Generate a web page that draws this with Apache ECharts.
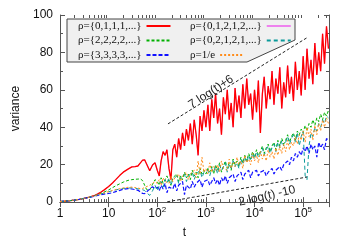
<!DOCTYPE html>
<html><head><meta charset="utf-8">
<script src="https://cdn.jsdelivr.net/npm/echarts@6/dist/echarts.min.js"></script>
<style>html,body{margin:0;padding:0;background:#fff}#c{width:349px;height:244px}</style>
</head><body><div id="c"></div>
<script>
// time points (t)
const tEarly = [1,1.5,2,2.5,3,4,5,6,7,8,10,12,14,17,20,25,30,35,40,45,50,55,60,70,80,90];
const tNoisy = [
 100,110,120,132,145,158,174,191,209,229,251,275,302,331,363,398,437,479,525,575,631,692,759,832,912,
 1000,1100,1200,1320,1450,1580,1740,1910,2090,2290,2510,2750,3020,3310,3630,3980,4370,4790,5250,5750,6310,6920,7590,8320,9120,
 10000,11000,12000,13200,14500,15800,17400,19100,20900,22900,25100,27500,30200,33100,36300,39800,43700,47900,52500,57500,63100,69200,75900,83200,91200,
 100000,110000,120000,132000,145000,158000,174000,191000,209000,229000,251000,275000,302000,331000];

// variance values
const redEarly = [0.3,0.7,1.1,1.5,1.9,2.6,3.4,4.4,5.4,6.4,8.3,10.2,12,14.3,16,17.6,18.8,19,19.3,21,22.4,22.6,20.5,16.8,19.8,21];
const redNoisy = [
 17,14,22,27,25,28,18,12,28,31,24,34,28,37,30,39,33,42,31,44,36,25,46,38,49,
 40,52,38,55,45,58,42,50,36,56,47,60,44,53,40,61,48,57,45,63,50,66,52,58,44,
 60,48,65,37,58,67,50,62,55,70,52,66,58,72,50,64,56,73,58,67,54,75,60,70,57,
 78,60,82,66,76,63,85,68,80,70,90,74,94,82];
const greenEarly = [0.3,0.7,1.1,1.5,1.9,2.6,3.3,4,4.7,5.3,6.5,7.7,8.7,9.8,10.7,11.6,12,12.2,12.3,12.4,11.5,9,6.8,6.5,9.5,12];
const greenNoisy = [
 11,9,13,10,12,14,11,9,13,12,15,11,14,12,16,13,15,12,17,14,16,13,18,15,17,
 15,18,16,19,15,20,17,21,16,19,22,18,21,17,23,20,22,19,24,21,25,22,26,23,27,
 24,28,25,27,30,26,29,31,27,30,32,28,33,30,34,31,33,36,32,35,37,33,38,36,39,
 37,41,38,42,40,44,41,45,43,47,44,48,46,49];
const blueEarly = [0.3,0.7,1.1,1.5,1.9,2.5,3.1,3.6,4,4.3,4.6,5,5.6,6.3,6.9,7.2,7,6.7,6.3,5.5,4.6,4.5,5.5,7,8.2,7.2];
const blueNoisy = [
 8,6,9,7,10,5,8,9,7,10,6,9,8,11,4,9,10,7,11,8,10,9,12,8,11,
 10,12,9,11,13,10,12,9,13,11,14,10,13,12,15,11,14,13,16,12,15,14,17,13,16,
 15,17,14,16,15,17,14,16,15,18,15,17,16,19,17,20,19,22,20,24,22,26,24,27,25,
 29,27,30,26,31,28,30,24,32,29,31,28,34,33];
// magenta is not visible in the reference: it lies under the solid red curve
const magentaEarly = [0.3,0.7,1.1,1.5,1.9,2.6,3.4,4.4,5.4,6.4,8.3,10.2,12,14.3,16,17.6,18.8,19,19.3,21,22.4,22.6,20.5,16.8,19.8,21];
const magentaNoisy = [
 17,14,22,27,25,28,18,12,28,31,24,34,28,37,30,39,33,42,31,44,36,25,46,38,49,
 40,52,38,55,45,58,42,50,36,56,47,60,44,53,40,61,48,57,45,63,50,66,52,58,44,
 60,48,65,37,58,67,50,62,55,70,52,66,58,72,50,64,56,73,58,67,54,75,60,70,57,
 78,60,82,66,76,63,85,68,80,70,90,74,94,82];
const cyanEarly = [0.3,0.7,1.1,1.5,1.9,2.6,3.3,3.9,4.4,4.8,5.5,6.1,6.5,7,7.3,7.5,7.6,7.4,7.1,6.7,6.6,6.2,5,3.6,6,9];
const cyanNoisy = [
 6,9,11,8,12,10,13,9,12,11,14,10,13,12,15,11,14,13,16,12,15,14,17,13,16,
 15,17,14,18,16,19,15,20,17,18,21,16,20,18,22,19,21,18,23,20,24,21,25,22,26,
 23,27,24,26,29,25,28,30,26,29,31,27,32,29,33,30,32,35,31,34,36,32,37,30,35,
 38,14,12,30,37,35,40,38,42,40,44,42,46,45];
const orangeEarly = [0.3,0.7,1.1,1.5,1.9,2.6,3.3,3.9,4.5,4.9,5.6,6.2,6.7,7.2,7.6,7.9,8,7.8,7.5,7.2,7.3,7.8,8.3,9,10,11];
const orangeNoisy = [
 10,12,9,13,11,12,10,14,11,13,12,15,11,14,13,16,12,15,14,17,13,22,15,24,16,
 18,15,21,16,19,17,20,16,22,18,19,17,23,18,21,19,24,20,22,18,25,21,23,20,26,
 22,25,21,27,23,26,22,28,24,27,23,29,25,30,26,31,27,33,28,32,30,35,31,36,33,
 38,32,40,35,39,33,41,36,42,38,44,40,45,42];

// guide lines: 7 log(t)+6 and 2 log(t) -10 (endpoints)
const fitUpperT = [166, 126000];
const fitUpperV = [41.8, 88.2];
const fitLowerT = [160, 120000];
const fitLowerV = [0.15, 13.4];

const seriesNames = ['ρ={0,1,1,1,...}','ρ={2,2,2,2,...}','ρ={3,3,3,3,...}','ρ={0,1,2,1,2,...}','ρ={0,2,1,2,1,...}','ρ=1/e'];

// tick labels
const xTickVals = [1,10,100,1000,10000,100000];
const xTickLabels = ['1','10','10{s|2}','10{s|3}','10{s|4}','10{s|5}'];
const minorMult = [2,3,4,5,6,7,8,9];
const yTicks = [0,20,40,60,80,100];

const X_MIN = 1, X_MAX = 340000;
const tAll = tEarly.concat(tNoisy);
function pts(early, noisy){ const v = early.concat(noisy); return tAll.map((x,i)=>[x, v[i]]); }
function pairs(ts, vs){ return ts.map((x,i)=>[x, vs[i]]); }
const minorVals = [];
xTickVals.forEach(d => minorMult.forEach(m => { if (d*m < X_MAX) minorVals.push(d*m); }));

const AX = '#555';
const sans = 'Liberation Sans';
function mkLine(name, data, color, width, type, z){
  return {name, type:'line', data, symbol:'none', showSymbol:false, animation:false,
    lineStyle:{color, width, type}, itemStyle:{color}, emphasis:{disabled:true}, z:z||2};
}
function mkLegend(names, left, top, w){
  const ts = {fontFamily:'Liberation Serif', fontSize:11, color:'#111', lineHeight:14};
  if (w) ts.width = w;
  return {data:names, orient:'vertical', left, top, align:'right', selectedMode:false, padding:0,
     itemWidth:24, itemHeight:10, itemGap:0.5,
     itemStyle:{opacity:0, borderWidth:0}, textStyle:ts};
}

const chart = echarts.init(document.getElementById('c'));
chart.setOption({
  animation:false,
  grid:{left:60, right:20, top:15, bottom:34.5},
  xAxis:[
    {type:'log', logBase:10, min:X_MIN, max:X_MAX, position:'bottom',
     name:'t', nameLocation:'middle', nameGap:16,
     nameTextStyle:{fontFamily:sans, fontSize:12, color:'#111', padding:[0,20,0,0]},
     axisLine:{lineStyle:{color:AX}}, axisTick:{inside:true, length:5, lineStyle:{color:AX}},
     axisLabel:{fontFamily:sans, fontSize:12, color:'#111', margin:4, lineHeight:16, showMaxLabel:false,
       formatter:(v)=>{ const i = xTickVals.indexOf(Math.round(v)); return i>=0 ? xTickLabels[i] : ''; },
       rich:{s:{fontFamily:sans, fontSize:8, verticalAlign:'top', color:'#111'}}},
     splitLine:{show:false}},
    {type:'log', logBase:10, min:X_MIN, max:X_MAX, position:'top',
     axisLine:{lineStyle:{color:AX}}, axisTick:{inside:true, length:5, lineStyle:{color:AX}},
     axisLabel:{show:false}, splitLine:{show:false}},
    {type:'log', logBase:10, min:X_MIN, max:X_MAX, position:'bottom',
     axisLine:{show:false}, axisTick:{inside:true, length:3, lineStyle:{color:AX}, customValues:minorVals},
     axisLabel:{show:false}, splitLine:{show:false}},
    {type:'log', logBase:10, min:X_MIN, max:X_MAX, position:'top',
     axisLine:{show:false}, axisTick:{inside:true, length:3, lineStyle:{color:AX}, customValues:minorVals},
     axisLabel:{show:false}, splitLine:{show:false}}
  ],
  yAxis:[
    {type:'value', min:0, max:100, interval:20, position:'left',
     name:'variance', nameLocation:'middle', nameGap:36, nameRotate:90,
     nameTextStyle:{fontFamily:sans, fontSize:12, color:'#111'},
     axisLine:{show:true, lineStyle:{color:AX}}, axisTick:{show:true, inside:true, length:5, lineStyle:{color:AX}},
     minorTick:{show:true, splitNumber:2, length:3, lineStyle:{color:AX}},
     axisLabel:{fontFamily:sans, fontSize:12, color:'#111', margin:7,
       formatter:(v)=> yTicks.indexOf(v)>=0 ? String(v) : ''},
     splitLine:{show:false}},
    {type:'value', min:0, max:100, interval:20, position:'right',
     axisLine:{show:true, lineStyle:{color:AX}}, axisTick:{show:true, inside:true, length:5, lineStyle:{color:AX}},
     minorTick:{show:true, splitNumber:2, length:3, lineStyle:{color:AX}},
     axisLabel:{show:false}, splitLine:{show:false}}
  ],
  legend:[
    mkLegend(seriesNames.slice(0,3), 78, 19, 61),
    mkLegend(seriesNames.slice(3,5), 190, 19, 70),
    mkLegend(seriesNames.slice(5,6), 190, 48, 0)
  ],
  graphic:[
    {type:'polygon', z:1, shape:{points:[[67,19],[295,19],[295,40],[247,62],[67,62]]},
     style:{fill:'#f0f0f0', stroke:'#444', lineWidth:1}},
    {type:'text', z:5, x:211, y:92, rotation:33*Math.PI/180,
     style:{text:'7 log(t)+6', x:0, y:0, font:'12px "Liberation Sans"', fill:'#222',
       align:'center', verticalAlign:'middle', textAlign:'center', textVerticalAlign:'middle'}},
    {type:'text', z:5, x:267, y:196, rotation:13*Math.PI/180,
     style:{text:'2 log(t) -10', x:0, y:0, font:'12px "Liberation Sans"', fill:'#222',
       align:'center', verticalAlign:'middle', textAlign:'center', textVerticalAlign:'middle'}}
  ],
  series:[
    mkLine(seriesNames[3], pts(magentaEarly, magentaNoisy), '#ee82ee', 1, 'solid', 1),
    mkLine(seriesNames[0], pts(redEarly, redNoisy), '#ff0000', 1.3, 'solid', 2),
    mkLine(seriesNames[1], pts(greenEarly, greenNoisy), '#00b000', 1, [3,2], 2),
    mkLine(seriesNames[2], pts(blueEarly, blueNoisy), '#1010ff', 1.2, [4,2], 2),
    mkLine(seriesNames[4], pts(cyanEarly, cyanNoisy), '#0a9a9a', 1, [4,3], 2),
    mkLine(seriesNames[5], pts(orangeEarly, orangeNoisy), '#ff8c1a', 1, [2,2], 2),
    mkLine('fitUpper', pairs(fitUpperT, fitUpperV), '#222', 1, [3,2], 3),
    mkLine('fitLower', pairs(fitLowerT, fitLowerV), '#222', 1, [3,2], 3)
  ]
});
</script></body></html>
